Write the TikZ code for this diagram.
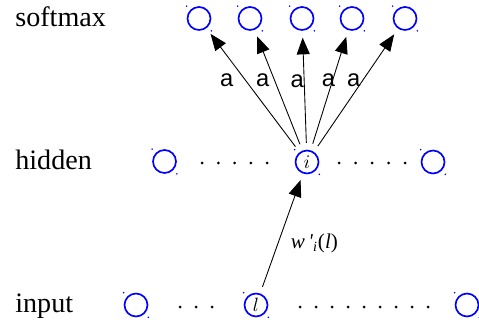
\documentclass[tikz,border=0pt]{standalone}
\usepackage{fontspec}
\setmainfont{Liberation Serif}
\newfontfamily\sansfnt{Liberation Sans}
\usetikzlibrary{arrows.meta}
\definecolor{neur}{HTML}{0000FF}
\tikzset{
  neuron/.style={circle,draw=neur,line width=0.95pt,minimum size=0.46cm,inner sep=0pt,
    font=\fontsize{10.5}{12}\selectfont\itshape},
  syn/.style={-{Triangle[length=9.5pt,width=7.4pt]},line width=0.5pt,
    shorten >=3.9pt,shorten <=3.9pt},
  layer/.style={anchor=base west,inner sep=0pt,font=\fontsize{16}{18}\selectfont},
  alab/.style={font=\sansfnt\fontsize{13.5}{15}\selectfont,inner sep=0pt},
  wlab/.style={font=\fontsize{12}{14}\selectfont,inner sep=0pt},
}

\begin{document}
\begin{tikzpicture}[x=0.02cm,y=-0.02cm]
  \useasboundingbox (0,0) rectangle (479,323);
  % layer names
  \node[layer] (tsoft) at (15,27) {softmax};
  \node[layer] (thid) at (15,170) {hidden};
  \node[layer] (tin) at (15,313) {input};
  % softmax units
  \foreach \k/\x in {1/199,2/250,3/302,4/352,5/405}
    \node[neuron] (s\k) at (\x,18.5) {};
  % hidden units
  \node[neuron] (h1) at (164.5,161.5) {};
  \node[neuron] (hi) at (307,162) {$i$};
  \node[neuron] (h2) at (433,162) {};
  \foreach \x in {202,218.25,...,268} \fill (\x,163) circle (1.5);
  \foreach \x in {339,355.5,...,406} \fill (\x,163) circle (1.5);
  % input units
  \node[neuron] (i1) at (136,305) {};
  \node[neuron] (il) at (256,305) {$l$};
  \node[neuron] (i2) at (467,305) {};
  \foreach \x in {180,196,212} \fill (\x,307) circle (1.5);
  \foreach \x in {300,316,...,429} \fill (\x,307) circle (1.5);
  % handles
  \foreach \n in {s1,s2,s3,s4,s5,h1,hi,h2,i1,il,i2}
    \fill[neur] (\n.west |- \n.north) circle (0.5pt) (\n.east |- \n.south) circle (0.5pt);
  % weights
  \draw[syn] (il) -- (hi) node[wlab,pos=0.42,right=7pt]
    {\textit{w\,\textquotesingle}\textsubscript{\textit{i}}(\textit{l})};
  \foreach \k/\dx in {1/-19,2/-12,3/-7,4/-4,5/-9}
    \draw[syn] (hi) -- (s\k) node[alab,pos=0.58,xshift=\dx*0.567pt] {a};
\end{tikzpicture}
\end{document}
